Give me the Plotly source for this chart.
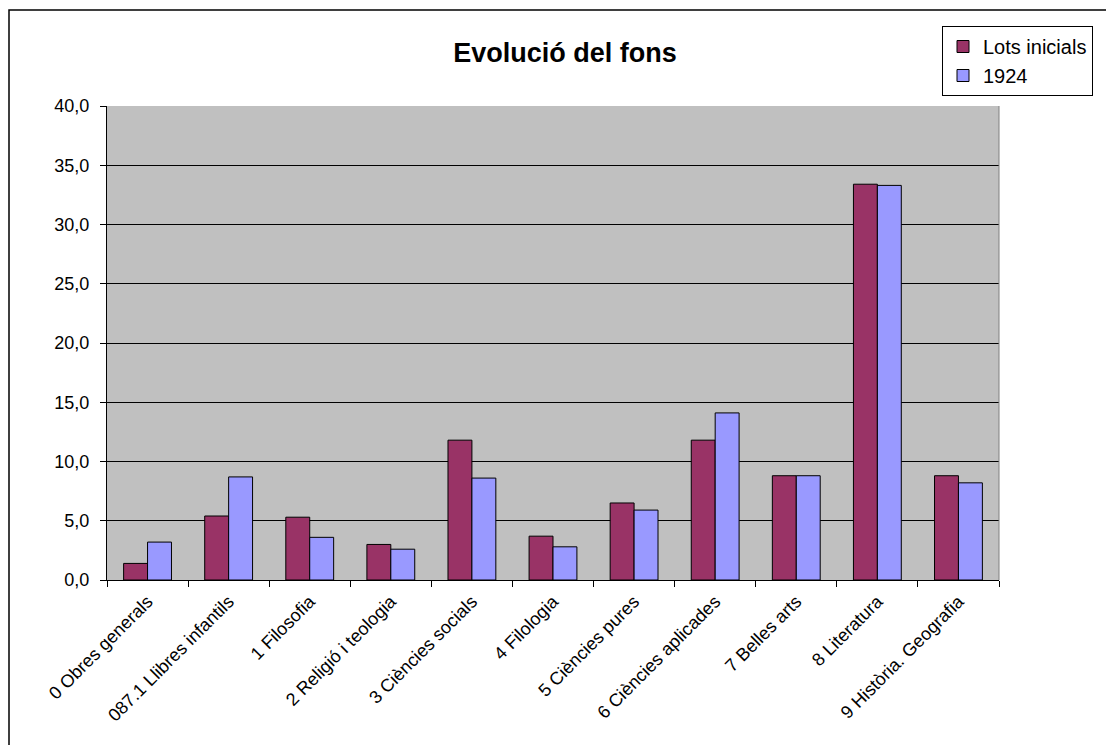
import plotly.graph_objects as go

categories = ["0 Obres generals", "087.1 Llibres infantils", "1 Filosofia",
              "2 Religió i teologia", "3 Ciències socials", "4 Filologia",
              "5 Ciències pures", "6 Ciències aplicades", "7 Belles arts",
              "8 Literatura", "9 Història. Geografia"]
lots_inicials = [1.4, 5.4, 5.3, 3.0, 11.8, 3.7, 6.5, 11.8, 8.8, 33.4, 8.8]
any_1924 = [3.2, 8.7, 3.6, 2.6, 8.6, 2.8, 5.9, 14.1, 8.8, 33.3, 8.2]
y_ticks = [0, 5, 10, 15, 20, 25, 30, 35, 40]

FONT = "Liberation Sans, Arial, sans-serif"
W, H = 1106, 745
L, R, T, B = 107, 999, 106, 580

fig = go.Figure()
fig.add_trace(go.Bar(x=categories, y=lots_inicials, name="Lots inicials",
                     marker=dict(color="#993366", line=dict(color="black", width=1))))
fig.add_trace(go.Bar(x=categories, y=any_1924, name="1924",
                     marker=dict(color="#9999FF", line=dict(color="black", width=1))))

def px(xp):
    return (xp - L) / (R - L)

def py(yp):
    return (B - yp) / (B - T)

fig.update_layout(
    width=W, height=H,
    margin=dict(l=L, r=W - R, t=T, b=H - B, pad=0),
    paper_bgcolor="white",
    plot_bgcolor="#C0C0C0",
    separators=",.",
    barmode="group",
    bargap=0.41,
    bargroupgap=0,
    font=dict(family=FONT, color="black"),
    title=dict(text="<b>Evolució del fons</b>", x=(565) / W, xanchor="center",
               y=1 - 53 / H, yanchor="middle",
               font=dict(family=FONT, size=27, color="black")),
    legend=dict(x=px(942), y=py(26), xanchor="left", yanchor="top",
                bgcolor="white", bordercolor="black", borderwidth=1,
                font=dict(family=FONT, size=20, color="black"),
                itemwidth=30, traceorder="normal"),
    xaxis=dict(tickangle=-45, tickfont=dict(family=FONT, size=18, color="black"),
               showline=True, linecolor="black", linewidth=1,
               ticks="outside", tickson="boundaries", ticklen=6, tickcolor="black",
               ticklabelstandoff=3,
               showgrid=False, fixedrange=True),
    yaxis=dict(range=[0, 40], tickvals=y_ticks, tickformat=".1f",
               tickfont=dict(family=FONT, size=18, color="black"),
               showline=True, linecolor="black", linewidth=1,
               ticks="outside", ticklen=6, tickcolor="black",
               ticklabelstandoff=7,
               showgrid=True, gridcolor="#000000", gridwidth=1,
               zeroline=False, fixedrange=True),
    shapes=[
        dict(type="rect", xref="paper", yref="paper",
             x0=px(9), x1=px(1130), y0=py(770), y1=py(10),
             line=dict(color="black", width=1.5), fillcolor="rgba(0,0,0,0)",
             layer="below"),
        dict(type="line", xref="paper", yref="paper", x0=1, x1=1, y0=0, y1=1,
             line=dict(color="#808080", width=1)),
    ],
)

fig.write_html("out.html")
